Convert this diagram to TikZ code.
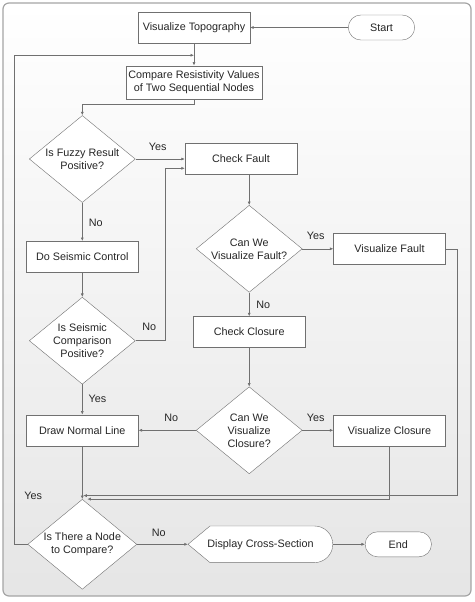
\documentclass[tikz,border=0pt]{standalone}
\usepackage{fontspec}
\setmainfont{Liberation Sans}
\usetikzlibrary{shapes.geometric,shapes.misc,arrows.meta}

\definecolor{edgegray}{RGB}{112,112,112}
\definecolor{framegray}{RGB}{165,165,165}

\begin{document}
\begin{tikzpicture}
  [x=1pt,y=-1pt,
   every node/.style={font=\fontsize{10.8}{13}\selectfont,text=black!85,align=center},
   box/.style={rectangle,draw=edgegray,fill=white,minimum width=112pt,minimum height=31pt,inner xsep=2.5pt,inner ysep=5pt},
   decide/.style={diamond,draw=edgegray,fill=white,inner sep=-12pt,minimum width=106pt,minimum height=87pt},
   term/.style={rounded rectangle,draw=edgegray,fill=white,minimum width=73pt,minimum height=25pt},
   lbl/.style={inner sep=0pt},
   link/.style={draw=edgegray,line width=.6pt,-{Latex[length=3.5pt,width=3pt]}}]
  \useasboundingbox (0,0) rectangle (474,602);
  \draw[framegray,line width=1.2pt,rounded corners=6pt,top color=white,bottom color=gray!20] (3,3) rectangle (471,596);

  \node[term] (start) at (381.5,27.5) {Start};
  \node[box] (topo) at (194,27.5) {Visualize Topography};
  \node[box] (cmp) at (194,82.3) {Compare Resistivity Values\\of Two Sequential Nodes};
  \node[decide] (fuzzy) at (82.3,159) {Is Fuzzy Result\\Positive?};
  \node[box] (chkfault) at (241,159) {Check Fault};
  \node[box] (doseis) at (82.3,256.7) {Do Seismic Control};
  \node[decide] (seis) at (82.3,340.7) {Is Seismic\\Comparison\\Positive?};
  \node[decide] (canfault) at (249.2,248.8) {Can We\\Visualize Fault?};
  \node[box] (visfault) at (389.5,248.8) {Visualize Fault};
  \node[box] (chkclos) at (249.2,332) {Check Closure};
  \node[decide] (canclos) at (249.2,430.3) {Can We\\Visualize\\Closure?};
  \node[box] (drawnl) at (82.3,430.3) {Draw Normal Line};
  \node[box] (visclos) at (389.5,430.3) {Visualize Closure};
  \node[decide,minimum width=109pt,minimum height=90pt] (node) at (82.3,544.3) {Is There a Node\\to Compare?};
  % display symbol
  \draw[edgegray,fill=white] (188,544.3) -- (210,526) -- (314.5,526)
    arc[start angle=90,end angle=-90,radius=18.3pt] -- (210,562.6) -- cycle;
  \node[minimum width=145pt,minimum height=36.6pt] (disp) at (260.5,544.3) {Display Cross-Section};
  \node[term] (endn) at (398.3,544.3) {End};

  \foreach \n/\x/\y/\t in {y1/157.6/146.7/Yes, n1/95.7/222.7/No, n2/149.3/327/No,
      y2/315.7/236/Yes, n3/263.3/305.3/No, y3/97.5/398.7/Yes, n4/171.3/418.3/No,
      y4/315.7/418.3/Yes, y5/33.3/496/Yes, n5/158.7/532.7/No}
    \node[lbl] (\n) at (\x,\y) {\t};

  \foreach \from/\to in {start/topo,topo/cmp,fuzzy/chkfault,fuzzy/doseis,doseis/seis,
      seis/drawnl,canfault/visfault,canfault/chkclos,chkclos/canclos,canclos/visclos,
      canclos/drawnl,drawnl/node,node/disp,disp/endn}
    \draw[link] (\from) -- (\to);

  \draw[link] (cmp.south) -- ++(0,5) -| (fuzzy.north);
  \draw[link] (canfault.north |- chkfault.south) -- (canfault.north);
  \draw[link] (seis.east) -- ++(30,0) |- ([yshift=-9.3pt]chkfault.west);
  \draw[link] (visfault.east) -- ++(12,0) |- ([xshift=1pt,yshift=3.5pt]node.north);
  \draw[link] (visclos.south) |- ([xshift=5pt]node.north);
  \draw[link] (node.west) -- ++(-13,0) |- ([yshift=10.3pt]cmp.north);
\end{tikzpicture}
\end{document}
